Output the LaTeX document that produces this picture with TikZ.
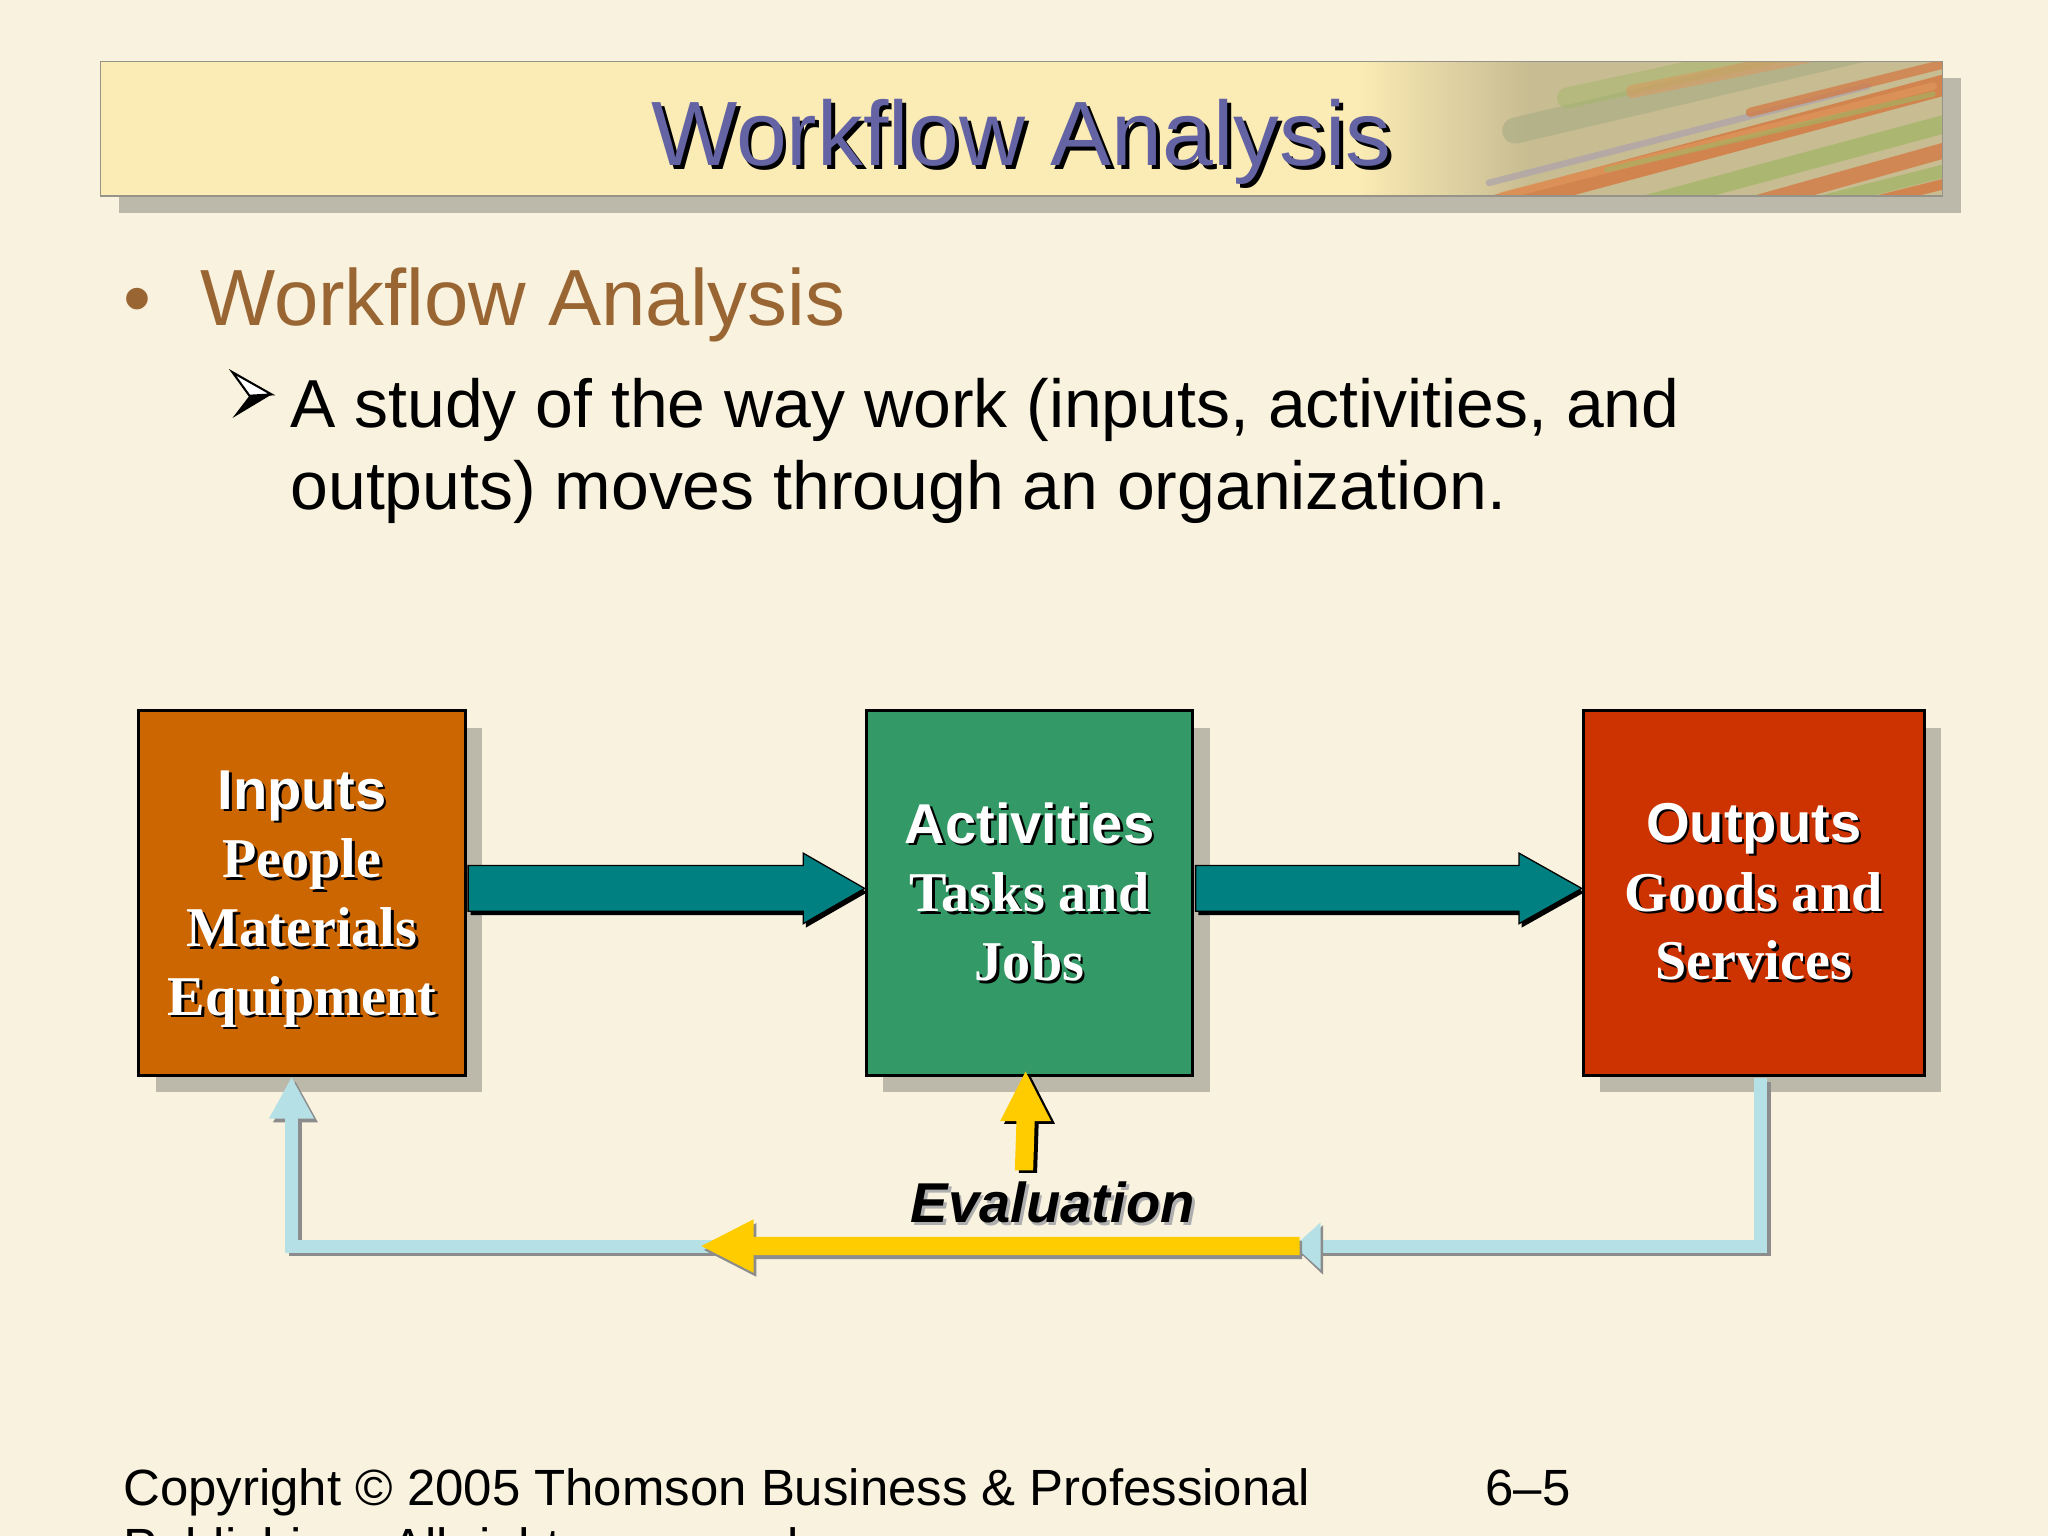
\documentclass[tikz,border=0pt]{standalone}
\usepackage{fontspec}
\setmainfont{Liberation Sans}
\newfontfamily\serifbold{Liberation Serif}
\usetikzlibrary{calc,shadows,arrows.meta}
\definecolor{bgc}{RGB}{248,242,223}
\definecolor{bannerc}{RGB}{251,235,180}
\definecolor{texbase}{RGB}{200,188,146}
\definecolor{strokeor}{RGB}{212,118,62}
\definecolor{strokeol}{RGB}{222,150,90}
\definecolor{strokegr}{RGB}{160,182,100}
\definecolor{strokegg}{RGB}{168,172,132}
\definecolor{strokelv}{RGB}{172,162,172}
\definecolor{titlec}{RGB}{100,100,165}
\definecolor{brownc}{RGB}{153,102,51}
\definecolor{inpc}{RGB}{204,102,0}
\definecolor{actc}{RGB}{51,153,102}
\definecolor{outc}{RGB}{204,51,0}
\definecolor{tealc}{RGB}{0,128,128}
\definecolor{shadowc}{RGB}{188,184,170}
\definecolor{lblue}{RGB}{180,224,230}
\definecolor{yellowc}{RGB}{255,204,0}
\definecolor{lshadow}{RGB}{140,140,140}
\newcommand\shtxt[3]{\leavevmode\rlap{\kern#3\raisebox{-#3}{\textcolor{#2}{#1}}}#1}
\newcommand\sansline[1]{{\bfseries\shtxt{#1}{black}{1pt}}}
\newcommand\serifline[1]{{\serifbold\bfseries\shtxt{#1}{black}{1pt}}}
\newcommand\myharrow[6]{\path[#6] ($(#1)+(0,-#3)$) -- ($(#2)+(#5,-#3)$) -- ($(#2)+(#5,-#4)$) -- (#2) -- ($(#2)+(#5,#4)$) -- ($(#2)+(#5,#3)$) -- ($(#1)+(0,#3)$) -- cycle;}
\newcommand\myvarrow[6]{\path[#6] ($(#1)+(-#3,0)$) -- ($(#2)+(-#3,#5)$) -- ($(#2)+(-#4,#5)$) -- (#2) -- ($(#2)+(#4,#5)$) -- ($(#2)+(#3,#5)$) -- ($(#1)+(#3,0)$) -- cycle;}
\begin{document}
\begin{tikzpicture}[x=0.5pt,y=-0.5pt,
  box/.style={draw=black, line width=1.2pt, minimum width=125pt, minimum height=139.5pt,
    inner sep=0pt, text=white, align=center, anchor=north west,
    font=\fontsize{21.5}{26.3}\selectfont,
    drop shadow={shadow xshift=6.5pt, shadow yshift=-6.5pt, fill=shadowc, draw=none, opacity=1}},
  blueline/.style={draw=lblue, line width=5pt, line join=miter, -{Triangle[width=16pt,length=16pt]}},
  blueshadow/.style={draw=lshadow, line width=5pt, line join=miter, -{Triangle[width=16pt,length=16pt]}},
  txt/.style={anchor=base west, inner sep=0pt}]
\useasboundingbox (0,0) rectangle (1568,1176);
\clip (0,0) rectangle (1568,1176);
\fill[bgc] (0,0) rectangle (1568,1176);
% banner
\fill[shadowc] (91,60) rectangle (1501,163);
\begin{scope}
  \clip (77,47) rectangle (1487,150);
  \fill[bannerc] (77,47) rectangle (1487,150);
  \shade[left color=bannerc, right color=texbase] (1040,40) rectangle (1170,160);
  \fill[texbase] (1170,40) rectangle (1490,160);
  \begin{scope}[line cap=round]
    \draw[strokegg, line width=10pt, opacity=0.6] (1160,100) -- (1500,20);
    \draw[strokegr, line width=8pt, opacity=0.45] (1200,75) -- (1500,10);
    \draw[strokeol, line width=5pt, opacity=0.5] (1250,70) -- (1500,20);
    \draw[strokeor, line width=8pt, opacity=0.8] (1105,168) -- (1500,62);
    \draw[strokeol, line width=3pt, opacity=0.7] (1150,150) -- (1480,66);
    \draw[strokegr, line width=7pt, opacity=0.7] (1180,178) -- (1500,92);
    \draw[strokelv, line width=2.5pt, opacity=0.7] (1140,140) -- (1430,66);
    \draw[strokeor, line width=6pt, opacity=0.75] (1250,182) -- (1500,112);
    \draw[strokegr, line width=5pt, opacity=0.7] (1310,176) -- (1500,128);
    \draw[strokeor, line width=4pt, opacity=0.8] (1380,168) -- (1500,138);
    \draw[strokeor, line width=3.5pt, opacity=0.7] (1340,86) -- (1500,46);
    \draw[strokegr, line width=2pt, opacity=0.6] (1230,130) -- (1480,72);
  \end{scope}
\end{scope}
\draw[shadowc!80!black, line width=0.5pt] (77,47) rectangle (1487,150);
\node[anchor=base, inner sep=0pt, text=titlec, font=\fontsize{35}{40}\selectfont] (title) at (782,127) {\shtxt{Workflow Analysis}{black}{1.5pt}};
% bullets
\node[txt, text=brownc, font=\fontsize{30.5}{36}\selectfont] (bul) at (94,249) {•};
\node[txt, text=brownc, font=\fontsize{30.5}{36}\selectfont] (head) at (153,249) {Workflow Analysis};
% 3D arrowhead bullet
\coordinate (abt) at (178,285);
\coordinate (abtip) at (208,302);
\coordinate (abn) at (191,303);
\coordinate (abb) at (178,320);
\fill[black] (abn) -- (abtip) -- (abb) -- cycle;
\filldraw[fill=white, draw=black, line width=0.8pt, line join=miter] (abt) -- (abtip) -- (abn) -- cycle;
\node[txt, font=\fontsize{26}{31.5}\selectfont] (sub1) at (222,327) {A study of the way work (inputs, activities, and};
\node[txt, font=\fontsize{26}{31.5}\selectfont] (sub2) at (222,390) {outputs) moves through an organization.};
% boxes
\node[box, fill=inpc, text depth=0pt] (inp) at (105,543) {\sansline{Inputs}\\\serifline{People}\\\serifline{Materials}\\\serifline{Equipment}};
\node[box, fill=actc] (act) at (662,543) {\sansline{Activities}\\\serifline{Tasks and}\\\serifline{Jobs}};
\node[box, fill=outc, minimum width=130.5pt] (out) at (1211,543) {\sansline{Outputs}\\\serifline{Goods and}\\\serifline{Services}};
% teal arrows
\coordinate (a1s) at ($(inp.east)+(1,-3.5)$);
\coordinate (a1e) at ($(act.west)+(0,-3.5)$);
\coordinate (a2s) at ($(act.east)+(1,-3.5)$);
\coordinate (a2e) at ($(out.west)+(0,-3.5)$);
\begin{scope}[transform canvas={shift={(1pt,-1.5pt)}}]
  \myharrow{a1s}{a1e}{17.5}{27}{-47}{fill=black}
  \myharrow{a2s}{a2e}{17.5}{27}{-48}{fill=black}
\end{scope}
\myharrow{a1s}{a1e}{17.5}{27}{-47}{fill=tealc, draw=black, line width=0.5pt}
\myharrow{a2s}{a2e}{17.5}{27}{-48}{fill=tealc, draw=black, line width=0.5pt}
% feedback loop
\coordinate (oc) at ($(out.south)+(5,1)$);
\coordinate (ic) at ($(inp.south)+(-8,0)$);
\coordinate (lv) at (0,954);
\begin{scope}[transform canvas={shift={(1.5pt,-1.5pt)}}]
  \draw[blueshadow] (oc) -- (oc |- lv) -- (ic |- lv) -- (ic);
\end{scope}
\draw[blueline] (oc) -- (oc |- lv) -- (ic |- lv) -- (ic);
\coordinate (bh) at (991,954);
\fill[lshadow] ($(bh)+(22,-16)$) -- ($(bh)+(2,3)$) -- ($(bh)+(22,22)$) -- cycle;
\fill[lblue] ($(bh)+(20,-18)$) -- (bh) -- ($(bh)+(20,18)$) -- cycle;
% evaluation arrows
\coordinate (ys) at (995,954);
\coordinate (yt) at (537,954);
\begin{scope}[transform canvas={shift={(1pt,-1.5pt)}}]
  \myharrow{ys}{yt}{7}{20.5}{40}{fill=lshadow}
\end{scope}
\myharrow{ys}{yt}{7}{20.5}{40}{fill=yellowc}
\coordinate (yvs) at (784,896);
\coordinate (yvt) at ($(act.south)+(-3,-4)$);
\begin{scope}[transform canvas={shift={(1.5pt,-1pt)}}]
  \myvarrow{yvs}{yvt}{7}{19.5}{38}{fill=black}
\end{scope}
\myvarrow{yvs}{yvt}{7}{19.5}{38}{fill=yellowc}
\node[anchor=base, inner sep=0pt, font=\fontsize{21.5}{26}\selectfont\bfseries\itshape] (eval) at (806,936) {\shtxt{Evaluation}{lshadow!70}{1pt}};
% footer
\node[txt, font=\fontsize{19.5}{23.4}\selectfont] (copy1) at (94,1153) {Copyright © 2005 Thomson Business \& Professional};
\node[txt, font=\fontsize{19.5}{23.4}\selectfont] (page) at (1137,1153) {6–5};
\node[txt, font=\fontsize{19.5}{23.4}\selectfont] (copy2) at (94,1198) {Publishing. All rights reserved.};
\end{tikzpicture}
\end{document}
